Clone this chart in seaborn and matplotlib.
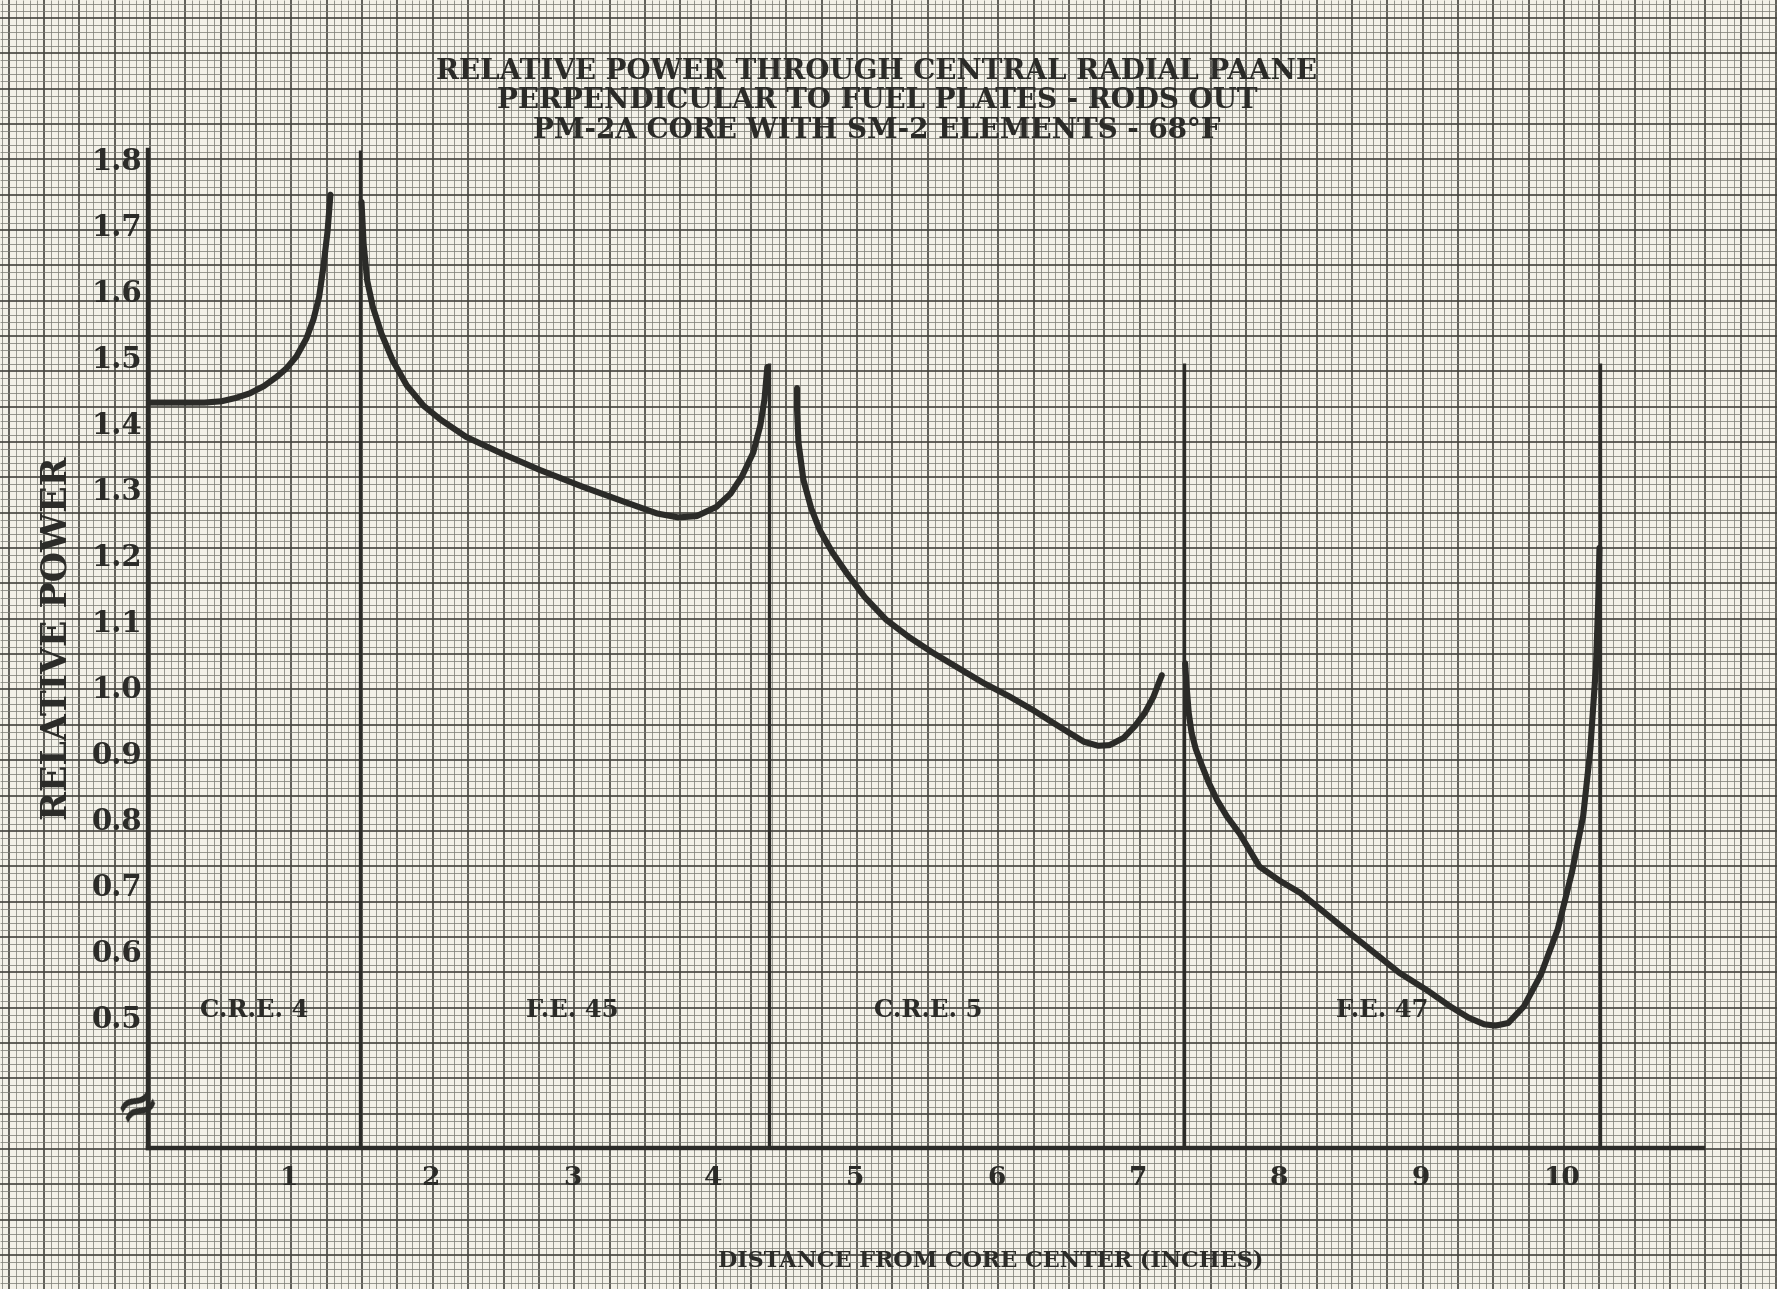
import numpy as np
import pandas as pd
import matplotlib
matplotlib.use("Agg")
import matplotlib.pyplot as plt
import seaborn as sns

# ---------------- data ----------------
cre4_x = [0.02, 0.20, 0.40, 0.52, 0.62, 0.72, 0.82, 0.91, 0.98, 1.05, 1.12, 1.17, 1.21, 1.24, 1.27, 1.29]
cre4_y = [1.430, 1.430, 1.430, 1.432, 1.437, 1.444, 1.455, 1.469, 1.482, 1.500, 1.527, 1.556, 1.590, 1.635, 1.690, 1.745]

fe45_x = [1.51, 1.525, 1.55, 1.59, 1.65, 1.73, 1.83, 1.95, 2.07, 2.25, 2.49, 2.77, 3.08, 3.39, 3.60, 3.75,
          3.88, 4.02, 4.12, 4.20, 4.28, 4.33, 4.36, 4.38]
fe45_y = [1.734, 1.670, 1.615, 1.575, 1.535, 1.494, 1.456, 1.425, 1.404, 1.378, 1.354, 1.328, 1.302, 1.278, 1.262, 1.256,
          1.258, 1.272, 1.292, 1.318, 1.354, 1.395, 1.435, 1.484]

cre5_x = [4.59, 4.59, 4.60, 4.635, 4.69, 4.75, 4.84, 4.94, 5.07, 5.22, 5.38, 5.55, 5.73, 5.91, 6.09, 6.26,
          6.40, 6.52, 6.62, 6.72, 6.80, 6.90, 6.98, 7.05, 7.11, 7.17]
cre5_y = [1.452, 1.420, 1.370, 1.313, 1.270, 1.237, 1.203, 1.172, 1.135, 1.101, 1.075, 1.051, 1.028, 1.005, 0.985, 0.964,
          0.945, 0.929, 0.916, 0.910, 0.911, 0.922, 0.940, 0.960, 0.984, 1.017]

fe47_x = [7.335, 7.345, 7.36, 7.38, 7.41, 7.45, 7.50, 7.56, 7.63, 7.72, 7.86, 8.00, 8.15, 8.50, 8.85, 9.05, 9.21,
          9.34, 9.45, 9.53, 9.62, 9.73, 9.85, 9.97, 10.07, 10.15, 10.20, 10.24, 10.255, 10.265]
fe47_y = [1.035, 1.000, 0.960, 0.930, 0.905, 0.882, 0.855, 0.828, 0.803, 0.777, 0.727, 0.706, 0.687, 0.626, 0.566,
          0.539, 0.515, 0.498, 0.488, 0.486, 0.490, 0.515, 0.563, 0.632, 0.718, 0.804, 0.904, 1.030, 1.120, 1.210]

boundary_x = [1.5, 4.39, 7.33, 10.27]
boundary_top = [1.813, 1.49, 1.49, 1.49]

region_names = ["C.R.E. 4", "F.E. 45", "C.R.E. 5", "F.E. 47"]
region_x = [0.75, 3.0, 5.52, 8.73]
region_y = 0.51

xtick_values = [1, 2, 3, 4, 5, 6, 7, 8, 9, 10]
ytick_values = [0.5, 0.6, 0.7, 0.8, 0.9, 1.0, 1.1, 1.2, 1.3, 1.4, 1.5, 1.6, 1.7, 1.8]

title_lines = ["RELATIVE POWER THROUGH CENTRAL RADIAL PAANE",
               "PERPENDICULAR TO FUEL PLATES - RODS OUT",
               "PM-2A CORE WITH SM-2 ELEMENTS - 68\u00b0F"]
x_label = "DISTANCE FROM CORE CENTER (INCHES)"
y_label = "RELATIVE POWER"

# ---------------- styling ----------------
plt.rcParams['font.family'] = ['DejaVu Serif']
plt.rcParams['font.weight'] = 'bold'
ink = '#2b2b28'
paper = '#f3f1e8'

W, H = 1777, 1289
fig = plt.figure(figsize=(W / 100, H / 100), dpi=100)
fig.patch.set_facecolor(paper)

# graph-paper background
bg = fig.add_axes([0, 0, 1, 1])
bg.set_xlim(0, W)
bg.set_ylim(H, 0)
bg.axis('off')
bg.set_zorder(0)
pitch = 7.07
kx = np.arange(-25, 260)
vx = 150 + pitch * kx
bg.vlines(vx[kx % 5 != 0], 0, H, colors='#7c7c74', lw=0.55)
bg.vlines(vx[kx % 5 == 0], 0, H, colors='#45453f', lw=1.2)
ky = np.arange(-30, 200)
hy = 1149 - pitch * ky
bg.hlines(hy[ky % 5 != 0], 0, W, colors='#7c7c74', lw=0.55)
bg.hlines(hy[ky % 5 == 0], 0, W, colors='#45453f', lw=1.2)

# main axes
ax = fig.add_axes([148 / W, (H - 1148) / H, 1555.4 / W, (1148 - 150) / H])
ax.set_zorder(2)
ax.patch.set_alpha(0)

frames = []
for name, xs, ys in [("C.R.E. 4", cre4_x, cre4_y), ("F.E. 45", fe45_x, fe45_y),
                     ("C.R.E. 5", cre5_x, cre5_y), ("F.E. 47", fe47_x, fe47_y)]:
    frames.append(pd.DataFrame({"x": xs, "y": ys, "segment": name}))
df = pd.concat(frames, ignore_index=True)

sns.lineplot(data=df, x="x", y="y", units="segment", estimator=None, sort=False,
             color=ink, lw=4.4, ax=ax, legend=False, solid_capstyle='round',
             solid_joinstyle='round')

ax.set_xlim(0, 11)
ax.set_ylim(0.3006, 1.8127)

ax.vlines(boundary_x, 0.3006, boundary_top, colors=ink, lw=2.4)

for sp in ['top', 'right']:
    ax.spines[sp].set_visible(False)
for sp in ['left', 'bottom']:
    ax.spines[sp].set_linewidth(3.2)
    ax.spines[sp].set_color(ink)

ax.set_xticks(xtick_values)
ax.set_xticklabels([str(v) for v in xtick_values])
ax.set_yticks(ytick_values)
ax.set_yticklabels([f"{v:.1f}" for v in ytick_values])
ax.tick_params(axis='both', length=0, colors=ink)
ax.tick_params(axis='x', pad=12, labelsize=19)
ax.tick_params(axis='y', pad=4, labelsize=21)
ax.set_xlabel("")
ax.set_ylabel("")

for name, xr in zip(region_names, region_x):
    ax.text(xr, region_y, name, ha='center', va='center', fontsize=17.5, color=ink, fontweight='bold')

# axis break mark
ax.text(-0.07, 0.366, "\u2248", ha='center', va='center', fontsize=38, color=ink,
        rotation=28, clip_on=False, fontweight='bold')

fig.text(877 / W, 1 - 101 / H, "\n".join(title_lines), ha='center', va='center',
         fontsize=20, color=ink, fontweight='bold', linespacing=1.1)
fig.text(991 / W, 1 - 1261 / H, x_label, ha='center', va='center', fontsize=16,
         color=ink, fontweight='bold')
fig.text(57 / W, 1 - 638 / H, y_label, ha='center', va='center', rotation=90,
         fontsize=25, color=ink, fontweight='bold')

fig.savefig("out.png", dpi=100, facecolor=paper)
